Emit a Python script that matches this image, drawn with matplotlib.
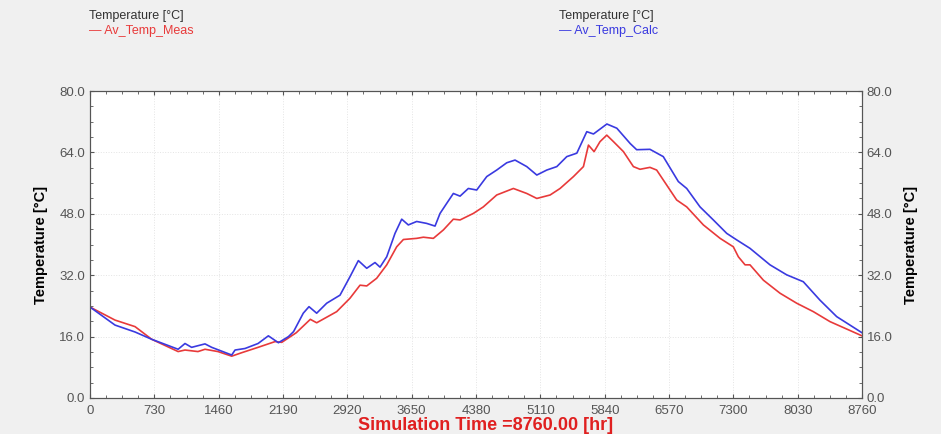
import matplotlib.pyplot as plt
from matplotlib.ticker import MultipleLocator

plt.rcParams['font.family'] = ['Liberation Sans', 'DejaVu Sans']

# Av_Temp_Calc (blue), hours / deg C
calc_hr = [0, 284, 511, 700, 1000, 1078, 1153, 1305, 1381, 1608, 1646, 1759,
           1907, 2024, 2138, 2252, 2310, 2420, 2485, 2572, 2686, 2837, 2950,
           3045, 3140, 3234, 3291, 3367, 3461, 3537, 3612, 3707, 3820, 3915,
           3972, 4047, 4123, 4199, 4293, 4388, 4502, 4615, 4729, 4823, 4956,
           5070, 5183, 5297, 5410, 5524, 5637, 5713, 5865, 5978, 6130, 6203,
           6354, 6505, 6676, 6771, 6922, 7073, 7225, 7338, 7489, 7716, 7905,
           8094, 8283, 8473, 8760]
calc_t = [23.7, 19.0, 17.2, 15.3, 12.7, 14.2, 13.2, 14.1, 13.2, 11.2, 12.5, 12.9,
          14.2, 16.2, 14.4, 16.0, 17.3, 22.1, 23.8, 22.1, 24.7, 26.8, 31.6,
          35.8, 33.8, 35.3, 34.1, 36.8, 42.9, 46.6, 45.1, 46.0, 45.5, 44.8,
          48.1, 50.7, 53.3, 52.6, 54.6, 54.2, 57.7, 59.4, 61.3, 62.0, 60.3,
          58.1, 59.4, 60.3, 62.9, 63.8, 69.4, 68.8, 71.4, 70.3, 66.3, 64.7,
          64.8, 62.9, 56.4, 54.6, 49.8, 46.4, 42.9, 41.2, 39.0, 34.7, 32.1,
          30.3, 25.5, 21.2, 17.0]

# Av_Temp_Meas (red)
meas_hr = [0, 284, 511, 700, 1000, 1078, 1225, 1305, 1452, 1608, 1721, 1907,
           2100, 2176, 2340, 2500, 2572, 2799, 2950, 3064, 3140, 3253, 3367,
           3480, 3556, 3707, 3783, 3896, 4010, 4123, 4199, 4350, 4463, 4615,
           4804, 4956, 5070, 5221, 5334, 5486, 5599, 5656, 5720, 5787, 5864,
           5940, 6053, 6166, 6241, 6354, 6430, 6657, 6771, 6960, 7150, 7300,
           7357, 7433, 7489, 7641, 7830, 8019, 8208, 8397, 8760]
meas_t = [23.7, 20.3, 18.6, 15.3, 12.1, 12.5, 12.1, 12.7, 12.1, 10.9, 11.8, 13.2,
          14.7, 14.5, 17.0, 20.5, 19.6, 22.5, 26.0, 29.4, 29.2, 31.2, 34.7,
          39.4, 41.3, 41.6, 41.9, 41.6, 43.8, 46.6, 46.4, 48.1, 49.8, 52.9,
          54.6, 53.3, 52.0, 52.9, 54.6, 57.7, 60.3, 65.9, 64.2, 66.8, 68.5,
          66.8, 64.2, 60.3, 59.6, 60.1, 59.4, 51.6, 49.8, 45.1, 41.6, 39.4,
          36.8, 34.7, 34.7, 30.7, 27.3, 24.7, 22.5, 19.9, 16.2]

x_ticks = [0, 730, 1460, 2190, 2920, 3650, 4380, 5110, 5840, 6570, 7300, 8030, 8760]
y_ticks = [0, 16, 32, 48, 64, 80]

red = '#e83a3a'
blue = '#3a3ae0'
tick_col = '#555555'

fig = plt.figure(figsize=(9.41, 4.34), dpi=100, facecolor='#f0f0f0')
ax = fig.add_axes([90 / 941, 1 - 398 / 434, 772 / 941, 307 / 434])
ax.set_facecolor('white')

ax.plot(meas_hr, meas_t, color=red, lw=1.2)
ax.plot(calc_hr, calc_t, color=blue, lw=1.2)

ax.set_xlim(0, 8760)
ax.set_ylim(0, 80)
ax.set_xticks(x_ticks)
ax.set_yticks(y_ticks)
ax.set_yticklabels([f'{v:.1f}' for v in y_ticks])
ax.xaxis.set_minor_locator(MultipleLocator(182.5))
ax.yaxis.set_minor_locator(MultipleLocator(4))
ax.grid(True, which='major', color='#e4e4e4', lw=0.7, ls=':')
ax.tick_params(which='both', direction='in', colors=tick_col, labelsize=9.5,
               top=True, labelcolor=tick_col)
ax.tick_params(which='major', length=3)
ax.tick_params(which='minor', length=2)
ax.tick_params(axis='x', pad=5)
for s in ax.spines.values():
    s.set_color('#555555')
ax.set_ylabel('Temperature [°C]', fontsize=10.5, fontweight='bold', labelpad=8)

ax2 = ax.twinx()
ax2.set_ylim(0, 80)
ax2.set_yticks(y_ticks)
ax2.set_yticklabels([f'{v:.1f}' for v in y_ticks])
ax2.yaxis.set_minor_locator(MultipleLocator(4))
ax2.tick_params(which='both', direction='in', colors=tick_col, labelsize=9.5)
ax2.tick_params(which='major', length=3)
ax2.tick_params(which='minor', length=2)
for s in ax2.spines.values():
    s.set_color('#555555')
ax2.set_ylabel('Temperature [°C]', fontsize=10.5, fontweight='bold', labelpad=8)

fig.text(486 / 941, 1 - 425 / 434, 'Simulation Time =8760.00 [hr]', color='#e02020',
         fontsize=13, fontweight='bold', ha='center', va='center')

# series headers at the top
fig.text(89 / 941, 1 - 16 / 434, 'Temperature [°C]', color='#333333', fontsize=9, va='center')
fig.text(89 / 941, 1 - 31 / 434, '— Av_Temp_Meas', color=red, fontsize=9, va='center')
fig.text(559 / 941, 1 - 16 / 434, 'Temperature [°C]', color='#333333', fontsize=9, va='center')
fig.text(559 / 941, 1 - 31 / 434, '— Av_Temp_Calc', color=blue, fontsize=9, va='center')

fig.savefig('out.png', dpi=100, facecolor=fig.get_facecolor())
